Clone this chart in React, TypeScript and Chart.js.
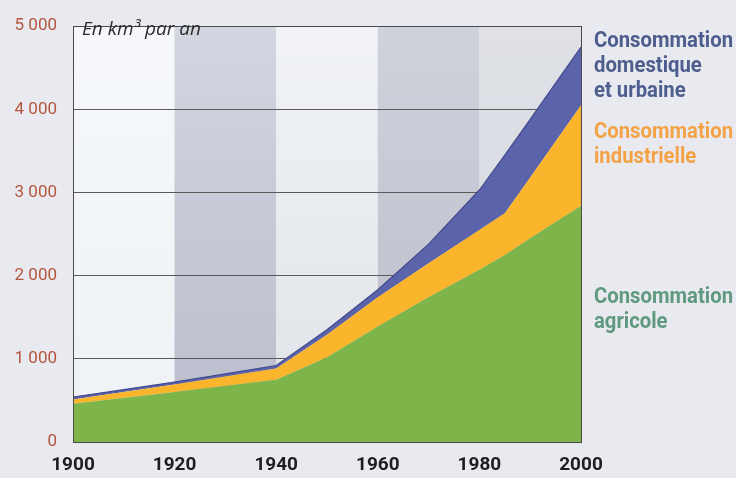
import React, { useEffect, useRef } from "react";
import { Chart, registerables } from "chart.js";

Chart.register(...registerables);

// Data (km³ per year)
const years = [1900, 1920, 1940, 1950, 1960, 1970, 1980, 1985, 1990, 2000];
const agricole = [460, 600, 750, 1020, 1390, 1740, 2070, 2250, 2450, 2840];
const industrielle = [50, 90, 135, 270, 350, 410, 480, 500, 730, 1210];
const domestique = [30, 30, 35, 60, 90, 230, 480, 700, 700, 700];

const xTickValues = [1900, 1920, 1940, 1960, 1980, 2000];
const xTickLabels = ["1900", "1920", "1940", "1960", "1980", "2000"];
const yTickValues = [0, 1000, 2000, 3000, 4000, 5000];
const yTickLabels = ["0", "1 000", "2 000", "3 000", "4 000", "5 000"];

const bandEdges = [1900, 1920, 1940, 1960, 1980, 2000];

const unitLabel = "En km³ par an";
const legendDomestique = ["Consommation", "domestique", "et urbaine"];
const legendIndustrielle = ["Consommation", "industrielle"];
const legendAgricole = ["Consommation", "agricole"];

const COLORS = {
  green: "#7db54a",
  orange: "#fbb52c",
  blue: "#5b63aa",
  blueLine: "#434a8e",
  legendBlue: "#4d5d8e",
  legendOrange: "#f4a246",
  legendGreen: "#5f9a80",
  tick: "#b4553c",
};

const bandStyles = [
  ["#f6f8fb", "#eef1f5"],
  ["#d3d6e0", "#b9bccb"],
  ["#f1f3f6", "#dfe2e8"],
  ["#cfd1db", "#babdca"],
  ["#dfe1e7", "#d3d5dd"],
];

const bgPlugin = {
  id: "bgPlugin",
  beforeDraw(chart: any) {
    const { ctx, chartArea, scales } = chart;
    ctx.save();
    ctx.fillStyle = "#e8eaef";
    ctx.fillRect(0, 0, chart.width, chart.height);
    const xs = scales.x;
    for (let i = 0; i < bandEdges.length - 1; i++) {
      const x0 = xs.getPixelForValue(bandEdges[i]);
      const x1 = xs.getPixelForValue(bandEdges[i + 1]);
      const g = ctx.createLinearGradient(0, chartArea.top, 0, chartArea.bottom);
      g.addColorStop(0, bandStyles[i][0]);
      g.addColorStop(1, bandStyles[i][1]);
      ctx.fillStyle = g;
      ctx.fillRect(x0, chartArea.top, x1 - x0, chartArea.bottom - chartArea.top);
    }
    ctx.restore();
  },
  afterDraw(chart: any) {
    const { ctx, chartArea } = chart;
    ctx.save();
    ctx.strokeStyle = "#4a4a4a";
    ctx.lineWidth = 1;
    ctx.strokeRect(
      Math.round(chartArea.left) + 0.5,
      Math.round(chartArea.top) + 0.5,
      Math.round(chartArea.right - chartArea.left),
      Math.round(chartArea.bottom - chartArea.top)
    );
    // unit label
    ctx.fillStyle = "#2e2e2e";
    ctx.font = "italic 19px 'Open Sans', sans-serif";
    ctx.textBaseline = "alphabetic";
    ctx.textAlign = "left";
    ctx.fillText(unitLabel, chartArea.left + 9, 35);
    // legends (condensed by horizontal scaling)
    const lx = chartArea.right + 13;
    ctx.font = "bold 22px Roboto, sans-serif";
    const w = ctx.measureText("Consommation").width;
    const sx = 139 / w;
    const drawLines = (lines: string[], color: string, y0: number) => {
      ctx.fillStyle = color;
      lines.forEach((t, i) => {
        ctx.save();
        ctx.translate(lx, y0 + i * 25);
        ctx.scale(sx, 1);
        ctx.fillText(t, 0, 0);
        ctx.restore();
      });
    };
    drawLines(legendDomestique, COLORS.legendBlue, 47);
    drawLines(legendIndustrielle, COLORS.legendOrange, 138);
    drawLines(legendAgricole, COLORS.legendGreen, 303);
    ctx.restore();
  },
};

export default function App() {
  const ref = useRef<HTMLCanvasElement>(null);
  useEffect(() => {
    if (!ref.current) return;
    const mk = (vals: number[]) => years.map((y, i) => ({ x: y, y: vals[i] }));
    const chart = new Chart(ref.current, {
      type: "line",
      data: {
        datasets: [
          {
            label: "Consommation agricole",
            data: mk(agricole),
            backgroundColor: COLORS.green,
            borderColor: COLORS.green,
            borderWidth: 0,
            fill: "origin",
            pointRadius: 0,
            tension: 0,
          },
          {
            label: "Consommation industrielle",
            data: mk(industrielle),
            backgroundColor: COLORS.orange,
            borderColor: COLORS.orange,
            borderWidth: 0,
            fill: "-1",
            pointRadius: 0,
            tension: 0,
          },
          {
            label: "Consommation domestique et urbaine",
            data: mk(domestique),
            backgroundColor: COLORS.blue,
            borderColor: COLORS.blueLine,
            borderWidth: 1.2,
            fill: "-1",
            pointRadius: 0,
            tension: 0,
          },
        ],
      },
      options: {
        responsive: false,
        animation: false,
        devicePixelRatio: 1,
        layout: { padding: { top: 12, right: 155, left: 0, bottom: 0 } },
        plugins: { legend: { display: false }, tooltip: { enabled: false } },
        scales: {
          x: {
            type: "linear",
            min: 1900,
            max: 2000,
            afterBuildTicks: (s: any) => {
              s.ticks = xTickValues.map((v) => ({ value: v }));
            },
            afterFit: (s: any) => {
              s.height = 36;
            },
            grid: { display: false, drawTicks: false },
            border: { display: true, color: "#4a4a4a" },
            ticks: {
              padding: 12,
              autoSkip: false,
              maxRotation: 0,
              color: "#1e1e1e",
              font: { family: "Roboto", weight: "bold", size: 19 },
              callback: (v: any) => xTickLabels[xTickValues.indexOf(Number(v))] ?? "",
            },
          },
          y: {
            stacked: true,
            min: 0,
            max: 5000,
            z: 1,
            afterBuildTicks: (s: any) => {
              s.ticks = yTickValues.map((v) => ({ value: v }));
            },
            afterFit: (s: any) => {
              s.width = 73;
            },
            grid: { color: "#5a5a5a", lineWidth: 1, drawTicks: false },
            border: { display: true, color: "#4a4a4a" },
            ticks: {
              padding: 16,
              color: COLORS.tick,
              font: { family: "Roboto", size: 17 },
              callback: (v: any) => yTickLabels[yTickValues.indexOf(Number(v))] ?? "",
            },
          },
        },
      },
      plugins: [bgPlugin],
    } as any);
    return () => chart.destroy();
  }, []);
  return (
    <div style={{ position: "absolute", left: 0, top: 0, width: 736, height: 478 }}>
      <canvas ref={ref} width={736} height={478} style={{ width: 736, height: 478, display: "block" }} />
    </div>
  );
}
